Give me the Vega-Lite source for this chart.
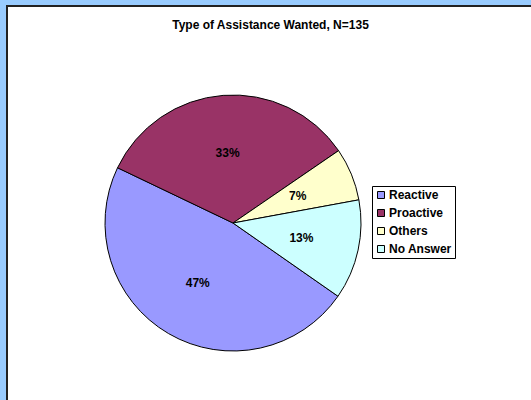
{
  "$schema": "https://vega.github.io/schema/vega-lite/v6.json",
  "width": 531,
  "height": 400,
  "autosize": {"type": "fit", "contains": "padding"},
  "padding": {"left": 7, "top": 6, "right": -3, "bottom": -3},
  "background": "#99CCFF",
  "title": {
    "text": "Type of Assistance Wanted, N=135",
    "font": "Liberation Sans",
    "fontSize": 12,
    "fontWeight": "bold",
    "color": "black",
    "anchor": "middle",
    "baseline": "middle",
    "offset": -31
  },
  "data": {
    "values": [
      {"type": "Reactive", "count": 64, "label": "47%", "rank": 1},
      {"type": "Proactive", "count": 45, "label": "33%", "rank": 2},
      {"type": "Others", "count": 9, "label": "7%", "rank": 3},
      {"type": "No Answer", "count": 17, "label": "13%", "rank": 4}
    ]
  },
  "encoding": {
    "theta": {"field": "count", "type": "quantitative", "stack": true, "scale": {"range": [2.18, 8.4632]}},
    "order": {"field": "rank", "type": "quantitative"}
  },
  "layer": [
    {
      "mark": {"type": "arc", "outerRadius": 128, "stroke": "black", "strokeWidth": 1},
      "encoding": {
        "x": {"value": 226},
        "y": {"value": 217},
        "color": {
          "field": "type",
          "type": "nominal",
          "sort": ["Reactive", "Proactive", "Others", "No Answer"],
          "scale": {
            "domain": ["Reactive", "Proactive", "Others", "No Answer"],
            "range": ["#9999FF", "#993366", "#FFFFCC", "#CCFFFF"]
          },
          "legend": {
            "title": null,
            "orient": "none",
            "legendX": 365,
            "legendY": 180,
            "strokeColor": "black",
            "padding": 3,
            "symbolType": "square",
            "symbolSize": 49,
            "symbolStrokeColor": "black",
            "symbolStrokeWidth": 1,
            "symbolOpacity": 1,
            "labelFont": "Liberation Sans",
            "labelFontSize": 12,
            "labelFontWeight": "bold",
            "labelColor": "black",
            "labelOffset": 2,
            "rowPadding": 6,
            "fillColor": "white"
          }
        }
      }
    },
    {
      "mark": {"type": "text", "radius": 70, "baseline": "middle", "font": "Liberation Sans", "fontSize": 12, "fontWeight": "bold", "color": "black"},
      "encoding": {
        "x": {"value": 226},
        "y": {"value": 217},
        "text": {"field": "label", "type": "nominal"}
      }
    }
  ],
  "config": {
    "view": {"fill": "white", "stroke": "#222222", "strokeWidth": 2}
  }
}
